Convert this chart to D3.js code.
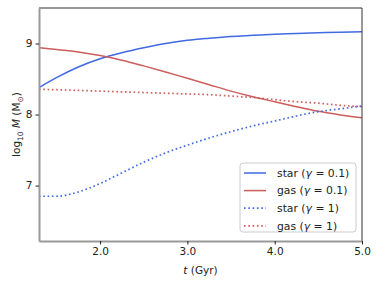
<!DOCTYPE html>
<html>
<head>
<meta charset="utf-8">
<script src="https://cdn.jsdelivr.net/npm/d3@7"></script>
<style>
  body { margin: 0; background: #fff; }
  text { font-family: "DejaVu Sans", sans-serif; fill: #222; }
</style>
</head>
<body>
<script>
// time grid (Gyr)
const tGrid = [1.3, 1.5, 1.75, 2.0, 2.25, 2.5, 2.75, 3.0, 3.25, 3.5, 3.75, 4.0, 4.25, 4.5, 4.75, 5.0];

// log10 M values
const star01 = [8.38, 8.52, 8.67, 8.785, 8.87, 8.94, 9.00, 9.045, 9.075, 9.10, 9.115, 9.13, 9.14, 9.15, 9.16, 9.165];
const gas01 = [8.94, 8.915, 8.88, 8.83, 8.765, 8.685, 8.60, 8.51, 8.42, 8.33, 8.25, 8.18, 8.11, 8.045, 7.995, 7.955];
const star1 = [6.85, 6.85, 6.91, 7.03, 7.18, 7.33, 7.46, 7.57, 7.67, 7.76, 7.84, 7.91, 7.98, 8.04, 8.08, 8.12];
const gas1 = [8.355, 8.35, 8.34, 8.33, 8.32, 8.31, 8.30, 8.29, 8.28, 8.26, 8.24, 8.21, 8.18, 8.16, 8.13, 8.11];

const xTicks = [2.0, 3.0, 4.0, 5.0];
const yTicks = [7, 8, 9];

const series = [
  { name: "star", gamma: "0.1", vals: star01, color: "#4169e1", dash: null },
  { name: "gas", gamma: "0.1", vals: gas01, color: "#cd5c5c", dash: null },
  { name: "star", gamma: "1", vals: star1, color: "#4169e1", dash: "1.6,2.7" },
  { name: "gas", gamma: "1", vals: gas1, color: "#cd5c5c", dash: "1.6,2.7" }
];

const W = 381, H = 285;
const m = { left: 39, right: 19, top: 8, bottom: 44 };
const iw = W - m.left - m.right, ih = H - m.top - m.bottom;

const svg = d3.select("body").append("svg").attr("width", W).attr("height", H);
const g = svg.append("g").attr("transform", `translate(${m.left},${m.top})`);

const x = d3.scaleLinear().domain([1.3, 5.0]).range([0, iw]);
const y = d3.scaleLinear().domain([6.22, 9.5]).range([ih, 0]);

const line = d3.line().x(d => x(d[0])).y(d => y(d[1])).curve(d3.curveMonotoneX);

g.append("defs").append("clipPath").attr("id", "clip")
  .append("rect").attr("width", iw).attr("height", ih);

const plot = g.append("g").attr("clip-path", "url(#clip)");
series.forEach(s => {
  plot.append("path")
    .datum(tGrid.map((t, i) => [t, s.vals[i]]))
    .attr("d", line)
    .attr("fill", "none")
    .attr("stroke", s.color)
    .attr("stroke-width", s.dash ? 1.7 : 1.5)
    .attr("stroke-dasharray", s.dash);
});

// spines
g.append("line").attr("x1", 0).attr("x2", iw).attr("y1", 0).attr("y2", 0).attr("stroke", "#333").attr("stroke-width", 1);
g.append("line").attr("x1", iw).attr("x2", iw).attr("y1", 0).attr("y2", ih).attr("stroke", "#333").attr("stroke-width", 1);

const xAxis = g.append("g").attr("transform", `translate(0,${ih})`)
  .call(d3.axisBottom(x).tickValues(xTicks).tickFormat(d3.format(".1f")).tickSizeInner(3.5).tickSizeOuter(0).tickPadding(3));
const yAxis = g.append("g")
  .call(d3.axisLeft(y).tickValues(yTicks).tickFormat(d3.format("d")).tickSizeInner(3.5).tickSizeOuter(0).tickPadding(3));

[xAxis, yAxis].forEach(a => {
  a.select(".domain").attr("stroke", "#999").attr("stroke-width", 2);
  a.selectAll(".tick line").attr("stroke", "#222").attr("stroke-width", 1);
  a.selectAll(".tick text").attr("font-size", 10.5).attr("fill", "#222")
    .style("font-family", "'DejaVu Sans', sans-serif");
});

// axis labels
const xl = svg.append("text").attr("x", m.left + iw / 2).attr("y", 274)
  .attr("text-anchor", "middle").attr("font-size", 10.5);
xl.append("tspan").attr("font-style", "italic").text("t");
xl.append("tspan").text(" (Gyr)");

const yl = svg.append("text")
  .attr("transform", `translate(20,${m.top + ih / 2}) rotate(-90)`)
  .attr("text-anchor", "middle").attr("font-size", 10.5);
yl.append("tspan").text("log");
yl.append("tspan").attr("font-size", 7.5).attr("dy", 2.5).text("10");
yl.append("tspan").attr("dy", -2.5).attr("font-style", "italic").text(" M");
yl.append("tspan").text(" (M");
yl.append("tspan").attr("font-size", 7.5).attr("dy", 2.5).text("⊙");
yl.append("tspan").attr("dy", -2.5).text(")");

// legend
const lg = svg.append("g").attr("transform", "translate(240,163)");
lg.append("rect").attr("width", 116).attr("height", 69).attr("rx", 3)
  .attr("fill", "#fff").attr("fill-opacity", 0.8).attr("stroke", "#ccc").attr("stroke-width", 1);
series.forEach((s, i) => {
  const yy = 10 + i * 17.6;
  lg.append("line").attr("x1", 4).attr("x2", 26).attr("y1", yy).attr("y2", yy)
    .attr("stroke", s.color).attr("stroke-width", s.dash ? 1.7 : 1.5).attr("stroke-dasharray", s.dash);
  const t = lg.append("text").attr("x", 37).attr("y", yy).attr("dy", "0.35em").attr("font-size", 10.8);
  t.append("tspan").text(s.name + " (");
  t.append("tspan").attr("font-style", "italic").text("γ");
  t.append("tspan").text(" = " + s.gamma + ")");
});
</script>
</body>
</html>
